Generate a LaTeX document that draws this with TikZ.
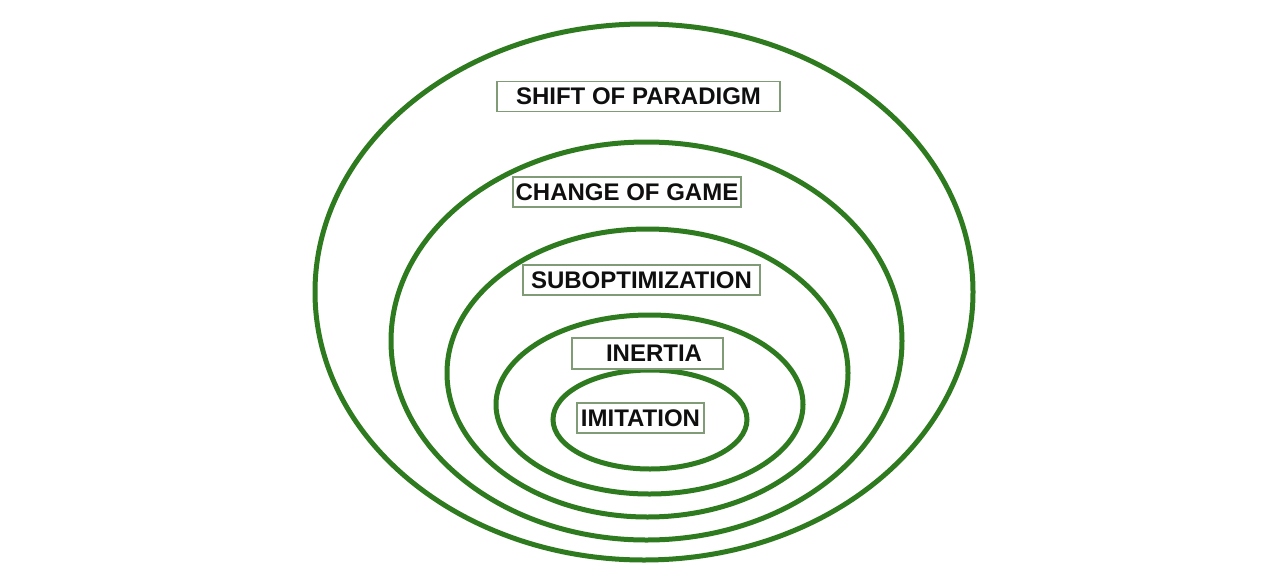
\documentclass[tikz,border=0pt]{standalone}
\usepackage{xcolor}
\usepackage{fontspec}
\setmainfont{Liberation Sans}
\usepackage{tikz}
\usetikzlibrary{positioning}
\definecolor{ringgreen}{RGB}{46,122,30}
\definecolor{tagedge}{RGB}{128,156,118}
\definecolor{tagtext}{RGB}{15,15,15}
\tikzset{
  ring/.style={draw=ringgreen, line width=5pt},
  tag/.style={rectangle, draw=tagedge, fill=white, line width=1.3pt,
    inner sep=0pt, minimum height=30pt, text=tagtext,
    font=\fontsize{24}{28}\selectfont\bfseries}
}
\begin{document}
\begin{tikzpicture}[x=1pt, y=-1pt]
  \useasboundingbox (0,0) rectangle (1280,576);

  % Rings, outer to inner
  \draw[ring] (644,292) ellipse [x radius=329, y radius=268];
  \draw[ring] (646.5,341) ellipse [x radius=255.5, y radius=199];
  \draw[ring] (647.5,373) ellipse [x radius=200.5, y radius=144];
  \draw[ring] (649.5,404.5) ellipse [x radius=153.5, y radius=89.5];
  \draw[ring] (650,419.5) ellipse [x radius=97, y radius=49.5];

  % Labels
  \node[tag, minimum width=283pt] (shift) at (638.5,96.5) {SHIFT OF PARADIGM};
  \node[tag, minimum width=228pt] (game) at (627,192) {CHANGE OF GAME};
  \node[tag, minimum width=237pt] (subopt) at (641.5,280) {SUBOPTIMIZATION};
  \node[tag, minimum width=151pt, minimum height=31pt] (inertia) at (647.5,353.5) {\hspace{13pt}INERTIA};
  \node[tag, minimum width=127pt] (imit) at (640.5,418) {IMITATION};
\end{tikzpicture}
\end{document}
